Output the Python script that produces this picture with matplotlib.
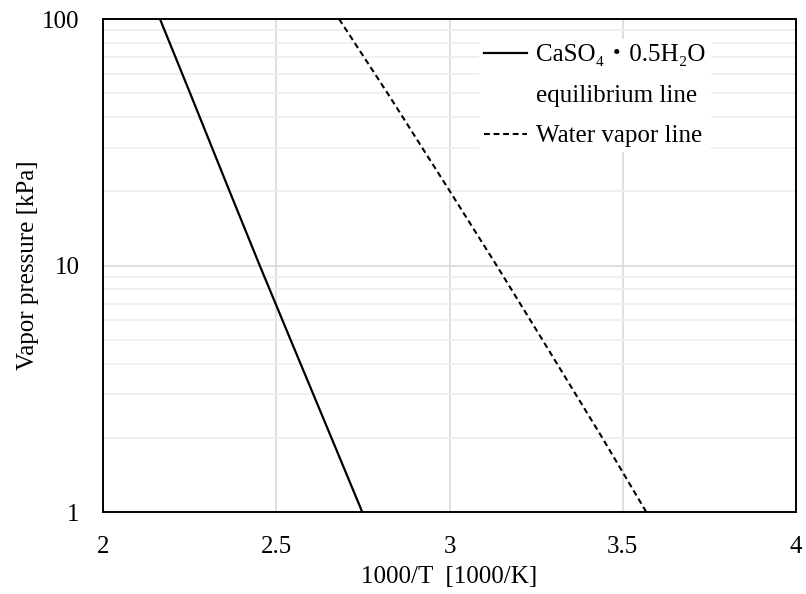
import matplotlib
matplotlib.use("Agg")
import matplotlib.pyplot as plt
from matplotlib.lines import Line2D
from matplotlib.ticker import FixedLocator, NullFormatter

# Data
pressure_kpa = [100, 50, 20, 10, 5, 2, 1]
caso4_inv_t = [2.164, 2.251, 2.365, 2.452, 2.541, 2.659, 2.748]  # CaSO4·0.5H2O equilibrium
water_inv_t = [2.681, 2.821, 3.001, 3.136, 3.268, 3.441, 3.568]  # water vapor line

x_ticks = [2, 2.5, 3, 3.5, 4]
x_tick_labels = ["2", "2.5", "3", "3.5", "4"]
y_ticks = [1, 10, 100]
y_tick_labels = ["1", "10", "100"]

plt.rcParams["font.family"] = ["Liberation Serif", "Noto Sans CJK JP", "DejaVu Sans"]
plt.rcParams["font.size"] = 18

fig = plt.figure(figsize=(8.06, 5.94), dpi=100)
ax = fig.add_axes([0.128, 0.138, 0.8595, 0.83])

dash = (0, (2.8, 1.8))
ax.plot(caso4_inv_t, pressure_kpa, color="black", lw=1.6, zorder=3)
ax.plot(water_inv_t, pressure_kpa, color="black", lw=1.5, ls=dash, zorder=3)

ax.set_yscale("log")
ax.set_xlim(2, 4)
ax.set_ylim(1, 100)

ax.set_xticks(x_ticks)
ax.set_xticklabels(x_tick_labels)
ax.set_yticks(y_ticks)
ax.set_yticklabels(y_tick_labels)
ax.yaxis.set_minor_locator(FixedLocator([2, 3, 4, 5, 6, 7, 8, 9,
                                         20, 30, 40, 50, 60, 70, 80, 90]))
ax.yaxis.set_minor_formatter(NullFormatter())
ax.tick_params(axis="both", which="both", length=0)
ax.tick_params(axis="y", pad=17)
ax.tick_params(axis="x", pad=17)

# Excel-like gridlines
ax.grid(True, which="major", color="#d9d9d9", lw=1.2, zorder=0)
ax.grid(True, which="minor", axis="y", color="#eeeeee", lw=1.2, zorder=0)
ax.set_axisbelow(True)
for s in ax.spines.values():
    s.set_linewidth(1.4)
    s.set_color("black")

ax.set_xlabel("1000/T  [1000/K]", labelpad=6)
ax.set_ylabel("Vapor pressure [kPa]", labelpad=2)

handles = [
    Line2D([], [], color="black", lw=1.6),
    Line2D([], [], color="none"),
    Line2D([], [], color="black", lw=1.5, ls=dash),
]
labels = ["CaSO\u2084\u30fb0.5H\u2082O", "equilibrium line", "Water vapor line"]
leg = ax.legend(handles, labels, loc="upper left", bbox_to_anchor=(0.524, 0.985),
                frameon=True, facecolor="white", edgecolor="none", framealpha=1,
                handlelength=1.75, handletextpad=0.35, labelspacing=0.72,
                borderpad=0.2, fontsize=18)

fig.savefig("out.png", dpi=100)
